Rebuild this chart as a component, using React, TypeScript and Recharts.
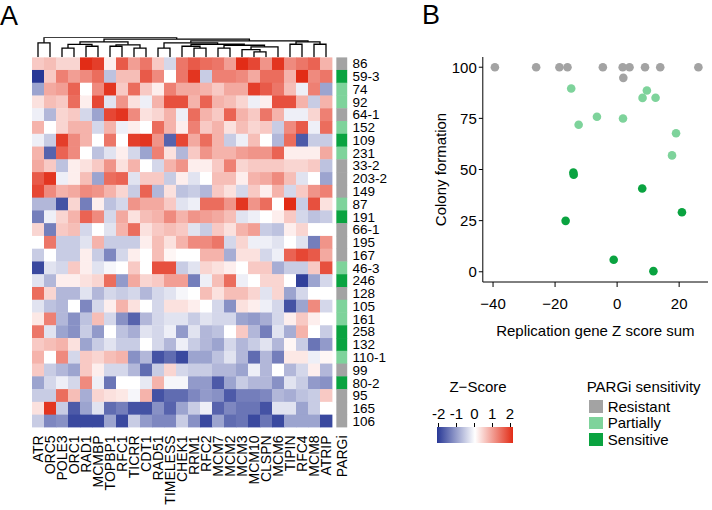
import React from "react";
import { ScatterChart, Scatter, XAxis, YAxis } from "recharts";

const FONT = '"Liberation Sans", Arial, Helvetica, sans-serif';

const GENES = [
  "ATR", "ORC5", "POLE3", "ORC1", "RAD1", "MCMBP", "TOPBP1", "RFC1", "TICRR", "CDT1",
  "RAD51", "TIMELESS", "CHEK1", "RRM1", "RFC2", "MCM7", "MCM2", "MCM3", "MCM10", "CLSPN",
  "MCM6", "TIPIN", "RFC4", "MCM8", "ATRIP",
];

const CELL_LINES = [
  "86", "59-3", "74", "92", "64-1", "152", "109", "231", "33-2", "203-2", "149", "87", "191",
  "66-1", "195", "167", "46-3", "246", "128", "105", "161", "258", "132", "110-1", "99",
  "80-2", "95", "165", "106",
];

// R = resistant, P = partially, S = sensitive
const PARGI_CLASS = [
  "R", "S", "P", "P", "R", "P", "S", "P", "R", "R", "R", "P", "S",
  "R", "R", "R", "P", "S", "R", "P", "P", "S", "S", "P", "R",
  "S", "R", "R", "R",
];

// z-scores, one row per cell line, columns in GENES order
const ZSCORES = [
  [0.4, 0.5, 0.3, 0.3, 2, 1.8, 0.1, 1.5, 0.8, 1.2, 0.4, -0.3, 1.2, 1.5, 1.3, 1.2, 0.8, 2, 1.7, 0.9, 1.9, 1.0, 1.2, 1.4, 0.6],
  [-2, 0.4, 1.1, 0.8, 1.0, 1.3, -0.5, 0.5, 0.5, 1.5, 1.0, 0, 1.2, 1.9, -0.4, 1.1, 1.1, 1.0, 0.7, 1.3, 1.3, 0.6, 2, 1.0, 1.2],
  [-0.8, 0.7, 0.8, 1.4, 0, 1.0, 1.9, 0.4, 1.3, 0.4, 0.1, 1.1, 0.7, 0.7, 0.6, 0.4, 0.7, 0.7, 1.8, 1.5, 1.2, 0.5, -0.1, 1.1, -0.8],
  [0.2, 0.5, 0.4, 1.3, 0.1, 1.7, -0.2, 0.9, 0.2, -0.1, 0.6, 1.6, 1.6, 0.6, 1.4, 0.6, 0.5, 0.3, -0.1, 0.1, 1.6, 1.6, 0.6, -0.4, 0.6],
  [-0.1, -0.6, 0.3, 0.4, -0.3, -0.8, 1.7, 1.9, 1.0, 0.2, 0.3, 0.6, -0.1, 1.3, 0.6, 0.4, 1.4, 0.6, 0.4, 1.2, 0.6, -0.1, -0.1, 0.3, 1.1],
  [0.6, 0, 0.3, 0.6, 0.6, -0.3, 0.6, -0.1, 0.1, 0, 1.3, 0.6, 0.1, 1.1, 0.4, 0.6, 0.2, 0.5, 0.3, 0.4, -0.4, 1.0, 1.5, -0.1, 1.3],
  [-0.1, -0.4, 1.8, 1.0, 0.6, 0, 1.2, 0, 1.8, 1.9, 0.9, -1.5, 1.7, 0.7, 1.3, 0.6, -0.4, -0.1, 0.5, 0, -0.6, 1.3, -1.6, -0.4, -0.4],
  [0.6, -1.5, 1.4, 1.0, 0, -0.5, -0.2, 0.1, -0.3, -0.8, 1.1, 0.2, -0.6, 0.4, 0.9, 0.6, 0.6, 0.8, 0.9, 0.9, 1.4, 0.1, 0.1, 0.1, 0.7],
  [0.7, 0.4, -0.5, 0.1, 0.2, 0.4, 0.9, 0.2, 0.6, 0, -0.3, 0.6, 0.9, 0.1, 0.1, 0.4, 1.1, 0.3, 0.4, 0.4, 0.4, 0.3, 0.3, 0.4, -0.5],
  [1.5, 1.9, -0.1, 0.1, 0.5, -0.8, 1.3, 1.4, -0.2, 0.4, 0.4, -0.4, 0.1, -0.2, 0, 0.5, 0.5, 0.1, 0.6, 0.7, 1.0, 0.5, -0.2, 0, -0.8],
  [1.7, 1.0, 0.6, 0.7, 1.0, 0.9, 0.6, 0.3, -0.4, 1.4, -0.6, 0.2, -0.5, -0.4, -0.6, 0.4, 0.2, -0.3, 0.4, 0.1, 0.6, -0.3, 0.4, 0.9, 1.1],
  [-0.6, -0.6, -1.7, 0.3, -1.2, 0.1, -0.5, -0.3, 0.9, 0.7, 0.7, 0.4, -0.2, -0.1, 1.3, 1.3, 0.9, 1.9, 0.9, 1.3, 0, 2, -0.4, 1.6, 0.2],
  [-1.2, -0.1, 0.3, 0.6, 1.4, 1.0, -0.3, 0.7, 0.2, 0.5, 0.6, 1.0, 0.6, 0.9, 0.8, 0.7, 0.5, -0.2, -0.1, 0, 0.1, 0.4, -0.3, -0.5, -0.4],
  [0.3, -1.2, 0.4, 0.5, -0.3, 0, -0.2, 0.6, 1.3, 0.2, 0.4, 0.5, 0.4, -0.2, -0.4, 0.4, 0.2, 0.6, 0.8, -0.4, -0.5, 0.1, 0.3, 0, 0],
  [0, 1.2, -0.4, -0.4, -0.2, 0.6, -0.4, -0.4, -0.4, 0.1, 0.5, 0.2, 0.6, 1.0, 1.0, 1.2, -0.3, 0.3, -0.1, -0.1, -0.2, 0, -0.2, -1.2, 0.9],
  [-0.4, 0, -0.4, -0.4, 0.1, -0.4, -1.1, -0.3, 0.1, 0, 0.5, 0.05, 0, 0, 0.6, 0.6, -0.7, 0.2, 0.2, -0.3, -0.1, 1.4, 1.7, 1.5, 0.7],
  [-1.8, -0.2, -0.3, 0.4, 0.1, -0.2, -0.05, 0, 0.4, 0, 1.6, 1.6, -0.4, -0.2, 0.3, 0.2, 0.1, 0, 0.4, 0.4, -0.7, -0.4, -0.4, 0.4, 1.6],
  [-0.2, -0.6, 0.1, 0.1, 0.2, 0.3, 1.3, -0.9, 0.7, 0.3, 0.4, 0.8, 0.8, -1.2, -0.1, 0.5, 1.3, -0.1, 0, 0.3, 0.3, 0, -1.9, -0.8, -0.3],
  [1.3, 0.3, -0.6, -0.6, -0.2, -0.6, -0.3, -0.4, -0.3, -0.6, -0.3, -0.2, -0.05, 0, 0.5, 0.2, 0.5, 0.5, 0.3, -0.2, 0.3, -0.8, -0.3, 0, 0],
  [-0.2, -0.5, -0.6, 0, -1.1, -0.3, 0.1, 0.6, 0.2, 0, -0.3, 0.2, 0.2, 0.1, 0, -0.3, -1.0, 0.2, 0.1, -0.1, -0.3, -1.7, -0.8, 1.0, -0.3],
  [0.15, 1.1, -0.6, -1.0, -0.5, 0.5, -0.3, -1.0, -1.5, -0.6, -0.3, -0.2, -0.2, -0.4, -0.2, -0.3, -0.3, -0.8, -0.9, -0.7, -0.3, 0.1, 0.4, 0.1, 0],
  [1.2, -0.2, -0.8, -1.0, -0.4, -0.9, 0, -0.5, -0.7, -0.2, -0.3, -0.1, -0.9, -0.2, -0.6, -0.5, 0, 0.4, -0.6, -1.2, -0.2, -0.7, 0.6, 0, -0.4],
  [0.4, 0.5, 0.6, 0.2, -0.8, -0.4, -0.2, -0.4, -0.4, 0, -0.3, -0.6, -0.1, -0.4, -0.6, -0.8, -0.3, -0.6, -0.4, -0.2, -0.6, 0.05, -0.4, -1.3, -0.9],
  [0.6, 0, 1.0, -0.3, 0.4, 0.3, 0.5, 0.6, -1.0, -0.6, -1.7, -1.4, -1.8, -0.8, -0.8, -0.5, -0.2, -0.6, -1.4, -0.6, -1.2, 0.15, 0.15, -0.1, 0.05],
  [0.4, -0.4, -0.6, -0.8, 0.4, 0.1, -0.3, -0.3, -0.6, -1.4, -0.4, 0.3, -0.3, -0.4, -0.4, -0.6, -0.6, -0.8, -0.1, -0.6, 0, -0.6, -0.3, 0.1, -0.6],
  [-0.8, -0.3, -0.1, -0.3, 1.0, -0.1, -1.3, 0, 0, -0.15, 0.6, -0.05, -0.05, -0.9, -0.9, -1.6, -0.8, -0.4, -0.6, -0.6, -1.0, -0.2, -0.4, -0.9, -1.0],
  [-0.4, -0.4, 1.3, 0.5, -0.7, 0.3, 0.2, 0.15, -0.05, 0.6, -1.7, -1.4, -1.4, -1.1, -0.9, -1.0, -1.6, -1.2, -1.2, -1.1, -0.6, -0.7, -0.5, -0.4, 0.4],
  [0.2, 1.9, -0.4, -1.6, -0.8, -0.2, -1.4, -1.2, -1.7, -1.7, -1.0, -1.5, -0.8, -0.4, -0.1, -1.5, -1.1, -1.3, -1.3, -1.7, -0.2, -0.2, -0.8, -0.4, 0],
  [-0.4, -1.1, -1.0, -1.8, -1.8, -1.8, -0.8, -1.8, -0.4, -0.9, -1.1, -1.1, -0.4, -1.0, -1.8, -0.8, -1.4, -1.3, -1.8, -1.3, -1.8, -0.8, -0.8, -0.8, -1.8],
];

// column dendrogram: [left, right, height]; "#k" refers to the k-th merge
const DENDRO_MERGES: [string, string, number][] = [
  ["ATR", "ORC5", 7.2],
  ["POLE3", "ORC1", 4.6],
  ["RAD1", "MCMBP", 5.5],
  ["#1", "#2", 6.4],
  ["TOPBP1", "RFC1", 5.5],
  ["TICRR", "CDT1", 4.6],
  ["#4", "#5", 6.2],
  ["#3", "#6", 7.7],
  ["RAD51", "TIMELESS", 4.6],
  ["RRM1", "RFC2", 4.6],
  ["CHEK1", "#9", 5.5],
  ["MCM7", "MCM2", 4.6],
  ["MCM10", "CLSPN", 2.7],
  ["MCM3", "#12", 3.8],
  ["#13", "MCM6", 5.2],
  ["#11", "#14", 6.0],
  ["#10", "#15", 6.5],
  ["#8", "#16", 7.2],
  ["TIPIN", "RFC4", 6.5],
  ["MCM8", "ATRIP", 6.5],
  ["#18", "#19", 7.7],
  ["#17", "#20", 8.2],
  ["#7", "#21", 9.1],
  ["#0", "#22", 10],
];

// panel B: [z score sum, colony formation]
const RESISTANT_PTS = [
  [-39.4, 100], [-26.1, 100], [-18.6, 100], [-16.0, 100], [-4.6, 100], [1.8, 100],
  [4.0, 100], [9.0, 100], [13.9, 100], [26.2, 100], [2.0, 94.8],
];
const PARTIAL_PTS = [
  [-14.8, 89.6], [9.6, 88.6], [8.2, 85], [12.4, 85.1], [-6.5, 75.8], [1.9, 74.9],
  [-12.4, 71.9], [19.0, 67.7], [17.7, 56.9],
];
const SENSITIVE_PTS = [
  [-14.1, 48.5], [-14.0, 47.4], [8.1, 40.7], [20.9, 29.1], [-16.6, 24.9], [-1.1, 5.9], [11.7, 0.3],
];

const CLASS_COLORS: Record<string, string> = { R: "#a3a3a3", P: "#7ed39b", S: "#0aa340" };
const BLUE = [40, 56, 150];
const RED = [226, 44, 22];

function zColor(v: number) {
  const t = Math.max(-1, Math.min(1, v / 2));
  const end = t < 0 ? BLUE : RED;
  const a = Math.pow(Math.abs(t), 0.85);
  const c = end.map((e) => Math.round(255 + (e - 255) * a));
  return `rgb(${c[0]},${c[1]},${c[2]})`;
}

// heatmap layout
const HM_W = 400;
const HM_H = 510;
const HM_LEFT = 32;
const HM_TOP = 57.2;
const HM_RIGHT = 347.6;
const HM_BOTTOM = 427.4;
const X_DOMAIN: [number, number] = [0.5, 26.8];
const PARGI_X = 26.32;
const CELL_W = (HM_RIGHT - HM_LEFT) / (X_DOMAIN[1] - X_DOMAIN[0]);
const CELL_H = (HM_BOTTOM - HM_TOP) / CELL_LINES.length;

const heatCells = ZSCORES.flatMap((row, r) => row.map((v, c) => ({ x: c + 1, y: r, v })));
const pargiCells = PARGI_CLASS.map((s, r) => ({ x: PARGI_X, y: r, s }));

function buildLinks() {
  const pos: Record<string, { x: number; h: number }> = {};
  GENES.forEach((g, i) => (pos[g] = { x: i + 1, h: 0 }));
  return DENDRO_MERGES.map(([a, b, h], k) => {
    const A = pos[a];
    const B = pos[b];
    pos[`#${k}`] = { x: (A.x + B.x) / 2, h };
    return [
      { x: A.x, y: A.h },
      { x: A.x, y: h },
      { x: B.x, y: h },
      { x: B.x, y: B.h },
    ];
  });
}
const dendroLinks = buildLinks();

const HeatCell = (props: any) => {
  const { cx, cy, payload } = props;
  return (
    <rect x={cx - CELL_W / 2} y={cy - CELL_H / 2} width={CELL_W + 0.4} height={CELL_H + 0.4} fill={zColor(payload.v)} />
  );
};

const PargiCell = (props: any) => {
  const { cx, cy, payload } = props;
  return (
    <rect x={cx - 5.5} y={cy - CELL_H / 2} width={11} height={CELL_H + 0.4} fill={CLASS_COLORS[payload.s]} />
  );
};

const GeneTick = (props: any) => {
  const { x, y, payload } = props;
  const label = Math.abs(payload.value - PARGI_X) < 0.01 ? "PARGi" : GENES[Math.round(payload.value) - 1];
  return (
    <text
      x={x}
      y={y}
      transform={`rotate(-90 ${x} ${y})`}
      textAnchor="end"
      dominantBaseline="central"
      fontSize={14}
      fontFamily={FONT}
      fill="#000"
    >
      {label}
    </text>
  );
};

const Dot = (props: any) => <circle cx={props.cx} cy={props.cy} r={4.3} fill={props.fill} />;

const toPts = (arr: number[][]) => arr.map(([x, y]) => ({ x, y }));

function Heatmap() {
  return (
    <>
      <div style={{ position: "absolute", left: 0, top: 0 }}>
        <ScatterChart width={HM_W} height={58} margin={{ top: 37.3, left: HM_LEFT, right: HM_W - HM_RIGHT, bottom: 58 - HM_TOP }}>
          <XAxis type="number" dataKey="x" domain={X_DOMAIN} allowDataOverflow hide />
          <YAxis type="number" dataKey="y" domain={[0, 10]} allowDataOverflow hide />
          {dendroLinks.map((pts, i) => (
            <Scatter
              key={i}
              data={pts}
              line={{ stroke: "#000", strokeWidth: 1.3 }}
              lineType="joint"
              shape={() => <g />}
              isAnimationActive={false}
            />
          ))}
        </ScatterChart>
      </div>
      <div style={{ position: "absolute", left: 0, top: 0 }}>
        <ScatterChart width={HM_W} height={HM_H} margin={{ top: HM_TOP, left: HM_LEFT, right: 0, bottom: 0 }}>
          <XAxis
            type="number"
            dataKey="x"
            domain={X_DOMAIN}
            allowDataOverflow
            ticks={[...GENES.map((_, i) => i + 1), PARGI_X]}
            interval={0}
            tick={<GeneTick />}
            tickLine={false}
            axisLine={false}
            tickSize={0}
            tickMargin={8}
            height={HM_H - HM_BOTTOM}
          />
          <YAxis
            type="number"
            dataKey="y"
            orientation="right"
            reversed
            domain={[-0.5, CELL_LINES.length - 0.5]}
            allowDataOverflow
            ticks={CELL_LINES.map((_, i) => i)}
            interval={0}
            tickFormatter={(v: number) => CELL_LINES[v]}
            tick={{ fill: "#000", fontSize: 13.5, fontFamily: FONT }}
            tickLine={false}
            axisLine={false}
            tickSize={0}
            tickMargin={5}
            width={HM_W - HM_RIGHT}
          />
          <Scatter data={heatCells} shape={HeatCell} isAnimationActive={false} />
          <Scatter data={pargiCells} shape={PargiCell} isAnimationActive={false} />
        </ScatterChart>
      </div>
    </>
  );
}

function ScatterPanel() {
  const axisFont = { fill: "#000", fontSize: 15, fontFamily: FONT };
  return (
    <div style={{ position: "absolute", left: 380, top: 0 }}>
      <ScatterChart width={332} height={360} margin={{ top: 57, right: 4, bottom: 18, left: 0 }}>
        <XAxis
          type="number"
          dataKey="x"
          domain={[-43.3, 29.3]}
          allowDataOverflow
          ticks={[-40, -20, 0, 20]}
          tickFormatter={(v: number) => (v < 0 ? `\u2212${-v}` : `${v}`)}
          tick={axisFont}
          stroke="#000"
          tickSize={5}
          tickMargin={11}
          height={60}
          label={{
            content: (p: any) => (
              <text
                x={p.viewBox.x + p.viewBox.width / 2}
                y={p.viewBox.y + 48}
                textAnchor="middle"
                dominantBaseline="central"
                fontSize={15}
                fontFamily={FONT}
                fill="#000"
              >
                Replication gene Z score sum
              </text>
            ),
          }}
        />
        <YAxis
          type="number"
          dataKey="y"
          domain={[-5, 105]}
          allowDataOverflow
          ticks={[0, 25, 50, 75, 100]}
          tick={axisFont}
          stroke="#000"
          tickSize={4}
          tickMargin={2}
          width={102.8}
          label={{
            content: (p: any) => {
              const x = p.viewBox.x + 60;
              const y = p.viewBox.y + p.viewBox.height / 2;
              return (
                <text
                  x={x}
                  y={y}
                  transform={`rotate(-90 ${x} ${y})`}
                  textAnchor="middle"
                  dominantBaseline="central"
                  fontSize={15}
                  fontFamily={FONT}
                  fill="#000"
                >
                  Colony formation
                </text>
              );
            },
          }}
        />
        <Scatter data={toPts(RESISTANT_PTS)} fill={CLASS_COLORS.R} shape={Dot} isAnimationActive={false} />
        <Scatter data={toPts(PARTIAL_PTS)} fill={CLASS_COLORS.P} shape={Dot} isAnimationActive={false} />
        <Scatter data={toPts(SENSITIVE_PTS)} fill={CLASS_COLORS.S} shape={Dot} isAnimationActive={false} />
      </ScatterChart>
    </div>
  );
}

const abs = (left: number, top: number, extra: React.CSSProperties = {}): React.CSSProperties => ({
  position: "absolute",
  left,
  top,
  ...extra,
});

function Legends() {
  const zTicks = [-2, -1, 0, 1, 2];
  const barX = (v: number) => 474.3 + v * 17.85;
  const items = [
    ["R", "Resistant"],
    ["P", "Partially"],
    ["S", "Sensitive"],
  ];
  return (
    <div style={{ fontFamily: FONT, fontSize: 15, lineHeight: "17px", color: "#000" }}>
      <div style={abs(428, 378, { width: 100, textAlign: "center" })}>Z{"\u2212"}Score</div>
      {zTicks.map((t) => (
        <React.Fragment key={t}>
          <div style={abs(barX(t) - 10, 405, { width: 20, textAlign: "center" })}>{t}</div>
          <div style={abs(barX(t) - 0.5, 423, { width: 1, height: 5, background: "#000" })} />
        </React.Fragment>
      ))}
      <div
        style={abs(437, 427, {
          width: 76,
          height: 16,
          background: `linear-gradient(to right, rgb(${BLUE.join(",")}) 0%, #ffffff 50%, rgb(${RED.join(",")}) 100%)`,
        })}
      />
      <div style={abs(586.7, 378)}>PARGi sensitivity</div>
      {items.map(([k, name], i) => (
        <React.Fragment key={k}>
          <div style={abs(589, 400 + i * 16.6, { width: 13.5, height: 12.7, background: CLASS_COLORS[k] })} />
          <div style={abs(607.7, 397.8 + i * 16.6)}>{name}</div>
        </React.Fragment>
      ))}
    </div>
  );
}

export default function App() {
  return (
    <div style={{ position: "absolute", left: 0, top: 0, width: 712, height: 510, background: "#fff", fontFamily: FONT }}>
      <div style={abs(0, 1, { fontSize: 27, lineHeight: "30px" })}>A</div>
      <div style={abs(422, 0, { fontSize: 27, lineHeight: "30px" })}>B</div>
      <Heatmap />
      <ScatterPanel />
      <Legends />
    </div>
  );
}
